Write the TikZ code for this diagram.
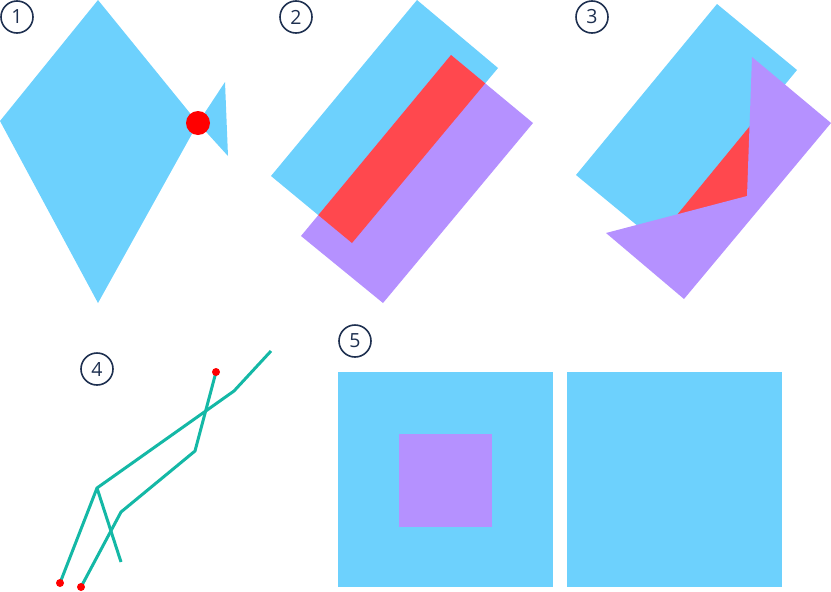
\documentclass[tikz,border=0pt]{standalone}
\usepackage{fontspec}
\setmainfont{Open Sans}
\definecolor{cblue}{RGB}{109,209,253}
\definecolor{cpurple}{RGB}{181,145,255}
\definecolor{cred}{RGB}{255,72,78}
\definecolor{cteal}{RGB}{20,184,166}
\definecolor{cnavy}{RGB}{30,48,80}
\tikzset{
  lbl/.style={circle, draw=cnavy, line width=1.6pt, minimum size=32pt, inner sep=0pt, text=cnavy, font=\fontsize{19.5}{19.5}\selectfont},
  tline/.style={draw=cteal, line width=3pt},
  rdot/.style={fill=red},
}
\begin{document}
\begin{tikzpicture}[x=1pt,y=-1pt]
\useasboundingbox (0,0) rectangle (831,592);
% panel 1
\fill[cblue] (98,0) -- (0,121) -- (98,303) -- (198,123) -- cycle;
\fill[cblue] (198,123) -- (225,82) -- (228,156) -- cycle;
\fill[rdot] (198,123) circle[radius=12];
\node[lbl] (l1) at (17,17) {1};
% panel 2
\fill[cblue] (417,0) -- (498,68) -- (352,243) -- (271,176) -- cycle;
\fill[cpurple] (451,55) -- (533,123) -- (383,303) -- (301,236) -- cycle;
\begin{scope}
\clip (417,0) -- (498,68) -- (352,243) -- (271,176) -- cycle;
\fill[cred] (451,55) -- (533,123) -- (383,303) -- (301,236) -- cycle;
\end{scope}
\node[lbl] (l2) at (296,17) {2};
% panel 3
\fill[cblue] (717,4) -- (797,70) -- (656,241) -- (576,175) -- cycle;
\fill[cred] (672,221) -- (752,123.5) -- (752,200) -- cycle;
\fill[cpurple] (752,57) -- (831,123) -- (684,299) -- (606,233) -- (747,196) -- cycle;
\node[lbl] (l3) at (592,17) {3};
% panel 4
\coordinate (a1) at (60,583);
\coordinate (a2) at (97,488);
\coordinate (a3) at (234,391);
\coordinate (a4) at (271,351);
\coordinate (b1) at (121,562);
\coordinate (c1) at (81,587);
\coordinate (c2) at (121,512);
\coordinate (c3) at (195,451);
\coordinate (c4) at (216,372);
\draw[tline] (a1) -- (a2) -- (a3) -- (a4);
\draw[tline] (a2) -- (b1);
\draw[tline] (c1) -- (c2) -- (c3) -- (c4);
\fill[rdot] (a1) circle[radius=4];
\fill[rdot] (c1) circle[radius=4];
\fill[rdot] (c4) circle[radius=4];
\node[lbl] (l4) at (97,369) {4};
% panel 5
\fill[cblue] (338,372) rectangle (553,587);
\fill[cblue] (567,372) rectangle (782,587);
\fill[cpurple] (399,434) rectangle (492,527);
\node[lbl] (l5) at (355,341) {5};
\end{tikzpicture}
\end{document}
